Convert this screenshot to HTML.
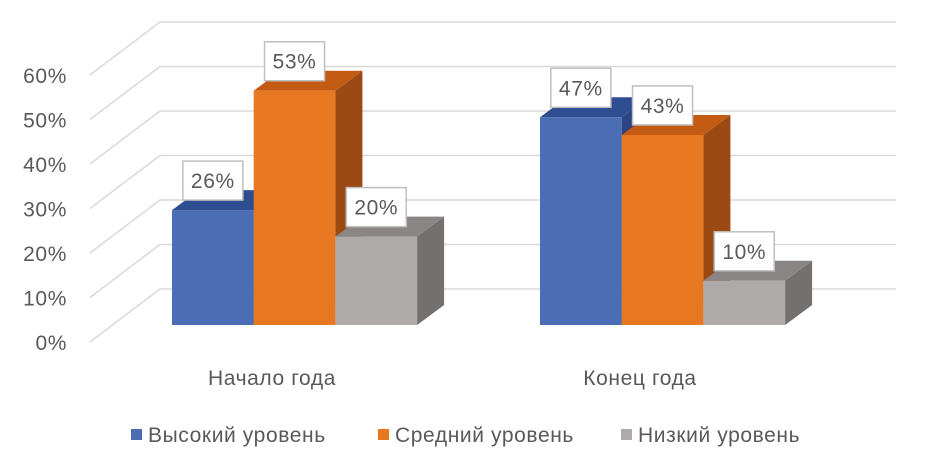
<!DOCTYPE html>
<html><head><meta charset="utf-8"><style>
body{margin:0;background:#fff;}
svg text{font-family:"Liberation Sans","DejaVu Sans",sans-serif;fill:#595959;letter-spacing:0.6px;}
</style></head><body>
<svg id="chart" width="939" height="461" viewBox="0 0 939 461" xmlns="http://www.w3.org/2000/svg">
<g id="grid"></g><g id="ylabels"></g><g id="bars"></g><g id="labels"></g><g id="cats"></g><g id="legend"></g>
</svg>
<script>
const categories = ["Начало года", "Конец года"];
const seriesNames = ["Высокий уровень", "Средний уровень", "Низкий уровень"];
const high = [26, 47];
const mid = [53, 43];
const low = [20, 10];
const yTicks = [0, 10, 20, 30, 40, 50, 60];
const tickLabels = ["0%", "10%", "20%", "30%", "40%", "50%", "60%"];

const NS = "http://www.w3.org/2000/svg";
const front = ["#4a6db4", "#e87722", "#aeaaa9"];
const tops = ["#2f4e91", "#c45b12", "#8a8685"];
const sides = ["#2c4482", "#9c4a14", "#737070"];
const series = [high, mid, low];
const backY = v => 289 - v * 4.45;
const barY = v => 325 - v * 4.42;
const groupX = [172, 540];
const barW = 81.7, DX = 27, DY = 20;
function el(tag, attrs, parent) { const e = document.createElementNS(NS, tag); for (const k in attrs) e.setAttribute(k, attrs[k]); parent.appendChild(e); return e; }

const grid = document.getElementById("grid");
const yl = document.getElementById("ylabels");
yTicks.forEach((t, i) => {
  const yb = backY(t);
  const g = el("polyline", { points: `90,${yb + 53} 160,${yb} 896,${yb}`, fill: "none", stroke: "#d9d9d9", "stroke-width": 1.5 }, grid);
  
  
  const tx = el("text", { x: 67, y: yb + 53 + 8, "text-anchor": "end", "font-size": 21 }, yl);
  tx.textContent = tickLabels[i];
  
  
});

const bars = document.getElementById("bars");
const labels = document.getElementById("labels");
categories.forEach((c, ci) => {
  series.forEach((s, si) => {
    const v = s[ci];
    const x = groupX[ci] + si * barW, y = barY(v), b = 325;
    const g = el("g", {}, bars);
    
    
    el("polygon", { points: `${x + barW},${y} ${x + barW + DX},${y - DY} ${x + barW + DX},${b - DY} ${x + barW},${b}`, fill: sides[si] }, g);
    el("polygon", { points: `${x},${y} ${x + DX},${y - DY} ${x + barW + DX},${y - DY} ${x + barW},${y}`, fill: tops[si] }, g);
    el("rect", { x: x, y: y, width: barW, height: b - y, fill: front[si] }, g);
    const cx = x + barW / 2;
    const lb = el("g", {}, labels);
    
    
    el("rect", { x: cx - 30, y: y - 49, width: 60, height: 39, fill: "#fff", stroke: "#bfbfbf", "stroke-width": 1.5 }, lb);
    const t = el("text", { x: cx, y: y - 22, "text-anchor": "middle", "font-size": 21 }, lb);
    t.textContent = v + "%";
  });
  const ct = el("text", { x: groupX[ci] + 100, y: 385, "text-anchor": "middle", "font-size": 21 }, document.getElementById("cats"));
  ct.textContent = c;
  
  
});

const legend = document.getElementById("legend");
const lx = [131, 378, 621];
seriesNames.forEach((n, i) => {
  const g = el("g", {}, legend);
  
  
  el("rect", { x: lx[i], y: 429, width: 11, height: 11, fill: front[i] }, g);
  const t = el("text", { x: lx[i] + 17, y: 442, "font-size": 21 }, g);
  t.textContent = n;
});
</script>
</body></html>
